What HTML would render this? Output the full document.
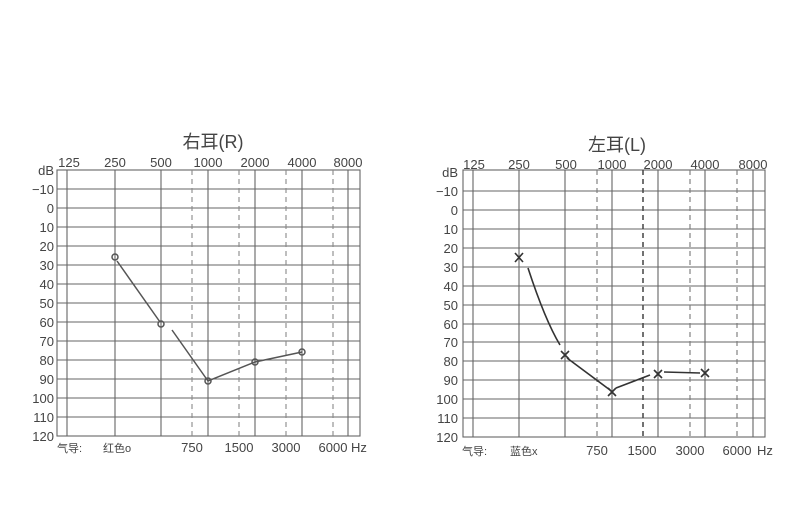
<!DOCTYPE html>
<html><head><meta charset="utf-8"><style>
body{margin:0;background:#fff;}
svg text{font-family:"Liberation Sans","Noto Sans CJK SC",sans-serif;fill:#444;}
</style></head><body>
<svg width="800" height="523" viewBox="0 0 800 523" xmlns="http://www.w3.org/2000/svg">
<rect width="800" height="523" fill="#fff"/>
<g id="L" stroke="#666" stroke-width="1.1" fill="none">
<rect x="57" y="170" width="303" height="266"/>
<g>
<line x1="57" y1="189" x2="360" y2="189"/><line x1="57" y1="208" x2="360" y2="208"/><line x1="57" y1="227" x2="360" y2="227"/><line x1="57" y1="246" x2="360" y2="246"/><line x1="57" y1="265" x2="360" y2="265"/><line x1="57" y1="284" x2="360" y2="284"/><line x1="57" y1="303" x2="360" y2="303"/><line x1="57" y1="322" x2="360" y2="322"/><line x1="57" y1="341" x2="360" y2="341"/><line x1="57" y1="360" x2="360" y2="360"/><line x1="57" y1="379" x2="360" y2="379"/><line x1="57" y1="398" x2="360" y2="398"/><line x1="57" y1="417" x2="360" y2="417"/>
</g>
<line x1="67" y1="170" x2="67" y2="436"/><line x1="115" y1="170" x2="115" y2="436"/><line x1="161" y1="170" x2="161" y2="436"/><line x1="208" y1="170" x2="208" y2="436"/><line x1="255" y1="170" x2="255" y2="436"/><line x1="302" y1="170" x2="302" y2="436"/><line x1="348" y1="170" x2="348" y2="436"/>
<g stroke-dasharray="5,4" stroke="#888"><line x1="192" y1="170" x2="192" y2="436"/><line x1="239" y1="170" x2="239" y2="436"/><line x1="286" y1="170" x2="286" y2="436"/><line x1="333" y1="170" x2="333" y2="436"/></g>
<g stroke="#555" stroke-width="1.5"><polyline points="117,261 160,322"/><polyline points="172,330 208,381 255,362 302,352"/>
<circle cx="115" cy="257" r="3"/><circle cx="161" cy="324" r="3"/><circle cx="208" cy="381" r="3"/><circle cx="255" cy="362" r="3"/><circle cx="302" cy="352" r="3"/></g>
</g>
<g font-size="13" text-anchor="end">
<text x="54" y="175">dB</text><text x="54" y="194">−10</text><text x="54" y="213">0</text><text x="54" y="232">10</text><text x="54" y="251">20</text><text x="54" y="270">30</text><text x="54" y="289">40</text><text x="54" y="308">50</text><text x="54" y="327">60</text><text x="54" y="346">70</text><text x="54" y="365">80</text><text x="54" y="384">90</text><text x="54" y="403">100</text><text x="54" y="422">110</text><text x="54" y="441">120</text>
</g>
<g font-size="13" text-anchor="middle">
<text x="69" y="167">125</text><text x="115" y="167">250</text><text x="161" y="167">500</text><text x="208" y="167">1000</text><text x="255" y="167">2000</text><text x="302" y="167">4000</text><text x="348" y="167">8000</text>
<text x="192" y="452">750</text><text x="239" y="452">1500</text><text x="286" y="452">3000</text><text x="333" y="452">6000</text><text x="359" y="452">Hz</text>
<text x="213" y="148" font-size="18">右耳(R)</text>
</g>
<text x="57" y="452" font-size="11">气导:</text><text x="103" y="452" font-size="11">红色o</text>

<g stroke="#666" stroke-width="1.1" fill="none">
<rect x="463" y="170" width="302" height="267"/>
<line x1="463" y1="191" x2="765" y2="191"/><line x1="463" y1="210" x2="765" y2="210"/><line x1="463" y1="229" x2="765" y2="229"/><line x1="463" y1="248" x2="765" y2="248"/><line x1="463" y1="267" x2="765" y2="267"/><line x1="463" y1="286" x2="765" y2="286"/><line x1="463" y1="305" x2="765" y2="305"/><line x1="463" y1="324" x2="765" y2="324"/><line x1="463" y1="342" x2="765" y2="342"/><line x1="463" y1="361" x2="765" y2="361"/><line x1="463" y1="380" x2="765" y2="380"/><line x1="463" y1="399" x2="765" y2="399"/><line x1="463" y1="418" x2="765" y2="418"/>
<line x1="473" y1="170" x2="473" y2="437"/><line x1="519" y1="170" x2="519" y2="437"/><line x1="565" y1="170" x2="565" y2="437"/><line x1="612" y1="170" x2="612" y2="437"/><line x1="658" y1="170" x2="658" y2="437"/><line x1="705" y1="170" x2="705" y2="437"/><line x1="753" y1="170" x2="753" y2="437"/>
<g stroke-dasharray="5,4" stroke="#777"><line x1="597" y1="170" x2="597" y2="437"/><line x1="643" y1="170" x2="643" y2="437" stroke="#444" stroke-width="1.5"/><line x1="690" y1="170" x2="690" y2="437"/><line x1="737" y1="170" x2="737" y2="437"/></g>
<g stroke="#333" stroke-width="1.6">
<path d="M528,268 Q545,320 560,345 M567,358 Q590,375 610,390 M616,388 L650,375 M664,372 L700,373"/>
<path d="M515,253 l8,9 M523,253 l-8,9 M561,351 l8,8 M569,351 l-8,8 M608,388 l8,8 M616,388 l-8,8 M654,370 l8,8 M662,370 l-8,8 M701,369 l8,8 M709,369 l-8,8"/>
</g>
</g>
<g font-size="13" text-anchor="end">
<text x="458" y="177">dB</text><text x="458" y="196">−10</text><text x="458" y="215">0</text><text x="458" y="234">10</text><text x="458" y="253">20</text><text x="458" y="272">30</text><text x="458" y="291">40</text><text x="458" y="310">50</text><text x="458" y="329">60</text><text x="458" y="347">70</text><text x="458" y="366">80</text><text x="458" y="385">90</text><text x="458" y="404">100</text><text x="458" y="423">110</text><text x="458" y="442">120</text>
</g>
<g font-size="13" text-anchor="middle">
<text x="474" y="169">125</text><text x="519" y="169">250</text><text x="566" y="169">500</text><text x="612" y="169">1000</text><text x="658" y="169">2000</text><text x="705" y="169">4000</text><text x="753" y="169">8000</text>
<text x="597" y="455">750</text><text x="642" y="455">1500</text><text x="690" y="455">3000</text><text x="737" y="455">6000</text><text x="765" y="455">Hz</text>
<text x="617" y="151" font-size="18">左耳(L)</text>
</g>
<text x="462" y="455" font-size="11">气导:</text><text x="510" y="455" font-size="11">蓝色x</text>
</svg>
</body></html>
